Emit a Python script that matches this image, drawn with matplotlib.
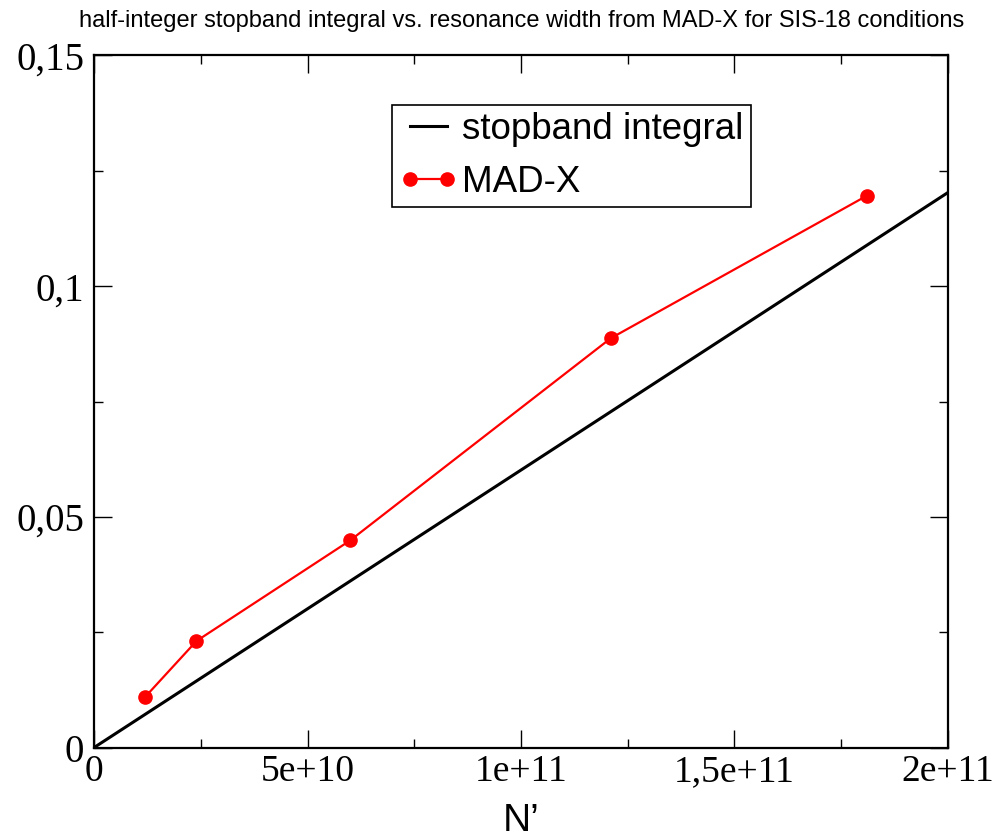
import numpy as np
import matplotlib
matplotlib.use("Agg")
import matplotlib.pyplot as plt
from matplotlib.ticker import MultipleLocator

# stopband integral (straight line through origin)
line_x = [0, 2e11]
line_y = [0, 0.1203]

# MAD-X resonance widths
madx_x = [1.2e10, 2.4e10, 6.0e10, 1.21e11, 1.81e11]
madx_y = [0.011, 0.0231, 0.0449, 0.0887, 0.1196]

xticks = [0, 5e10, 1e11, 1.5e11, 2e11]
xtick_labels = ["0", "5e+10", "1e+11", "1,5e+11", "2e+11"]
yticks = [0, 0.05, 0.1, 0.15]
ytick_labels = ["0", "0,05", "0,1", "0,15"]

serif = ["Liberation Serif", "DejaVu Serif"]
sans = ["Liberation Sans", "DejaVu Sans"]

fig = plt.figure(figsize=(10, 8.4), dpi=100)
ax = fig.add_axes([0.094, 0.110, 0.854, 0.824])

ax.plot(line_x, line_y, color="black", lw=2.2, label="stopband integral")
ax.plot(madx_x, madx_y, color="red", lw=1.6, marker="o", ms=9.5,
        label="MAD-X")

ax.set_xlim(0, 2e11)
ax.set_ylim(0, 0.15)
ax.set_xticks(xticks)
ax.set_xticklabels(xtick_labels, fontfamily=serif, fontsize=27)
ax.set_yticks(yticks)
ax.set_yticklabels(ytick_labels, fontfamily=serif, fontsize=28)
ax.xaxis.set_minor_locator(MultipleLocator(2.5e10))
ax.yaxis.set_minor_locator(MultipleLocator(0.025))
ax.tick_params(which="both", direction="in", top=True, right=True, width=1.0)
ax.tick_params(which="major", length=13)
ax.tick_params(axis="y", which="major", pad=7)
ax.tick_params(axis="x", which="major", pad=5)
ax.tick_params(which="minor", length=6.5)
for s in ax.spines.values():
    s.set_linewidth(1.6)

ax.set_xlabel("N\u2019", fontfamily=sans, fontsize=28, labelpad=10)
fig.text(0.522, 0.975, "half-integer stopband integral vs. resonance width from MAD-X for SIS-18 conditions",
         ha="center", va="center", fontfamily=sans, fontsize=17)

leg = ax.legend(loc="upper left", bbox_to_anchor=(0.392, 1 - 0.125), bbox_transform=fig.transFigure,
                prop={"family": sans, "size": 26.5}, frameon=True, fancybox=False,
                edgecolor="black", framealpha=1, handlelength=1.6, numpoints=2, borderpad=0.2,
                labelspacing=0.48, handletextpad=0.1, borderaxespad=0)
leg.get_frame().set_linewidth(1.2)

fig.savefig("out.png", dpi=100)
